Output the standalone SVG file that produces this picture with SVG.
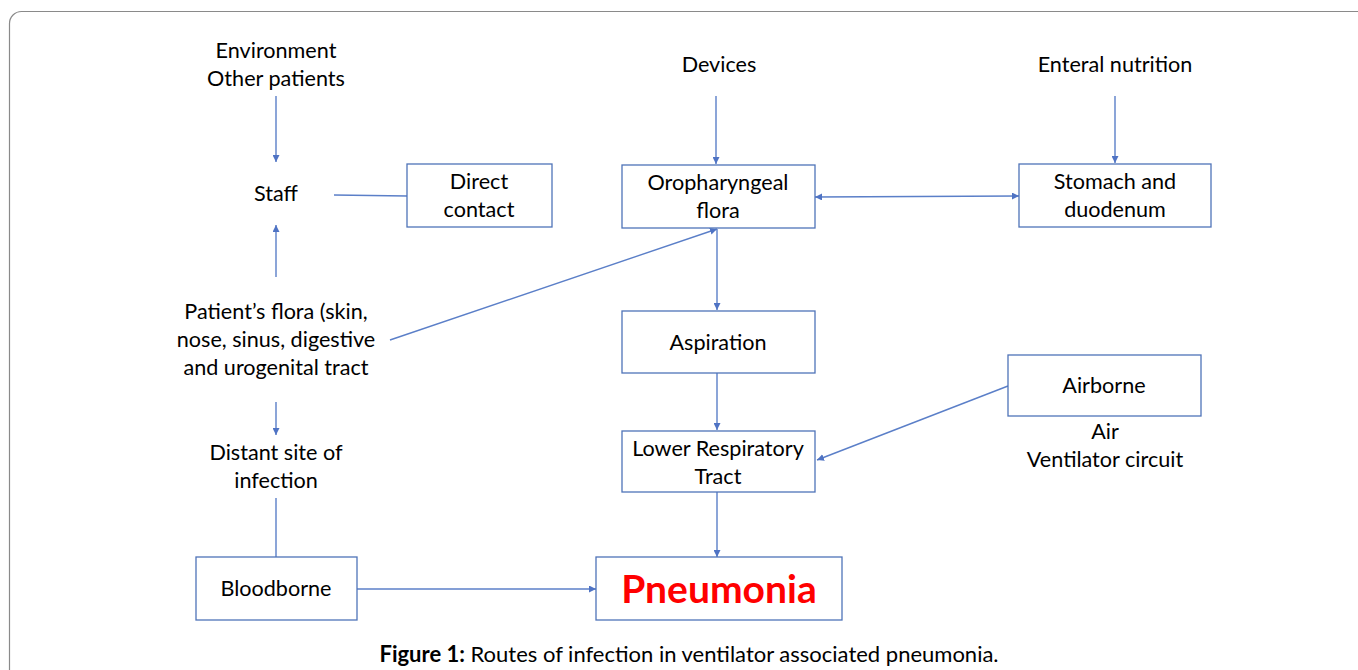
<svg xmlns="http://www.w3.org/2000/svg" width="1358" height="670" viewBox="0 0 1358 670">
<style>
.t{font-family:Lato,"Open Sans","Liberation Sans",sans-serif;font-size:21.6px;fill:#000;text-anchor:middle}
.b{fill:#fff;stroke:#4f73b8;stroke-width:1.3}
.c{stroke:#5b7fc8;stroke-width:1.4;fill:none}
.a{marker-end:url(#ah)}
</style>
<defs>
<marker id="ah" viewBox="0 0 10 10" refX="10" refY="5" markerWidth="7" markerHeight="7" markerUnits="userSpaceOnUse" orient="auto-start-reverse"><path d="M0,0L10,5L0,10z" fill="#4f73c4"/></marker>
</defs>
<rect width="1358" height="670" fill="#fff"/>
<rect x="9.5" y="11.5" width="1420" height="720" rx="12" fill="none" stroke="#8a8a8a" stroke-width="1.2"/>
<g id="connectors">
<line class="c a" x1="276" y1="96" x2="276" y2="162"/>
<line class="c" x1="334" y1="195" x2="407" y2="196"/>
<line class="c a" x1="276" y1="277" x2="276" y2="225"/>
<line class="c a" x1="390" y1="340" x2="717" y2="229"/>
<line class="c a" x1="276" y1="402" x2="276" y2="435"/>
<line class="c" x1="276" y1="498" x2="276" y2="557"/>
<line class="c a" x1="357" y1="589" x2="596" y2="589"/>
<line class="c a" x1="716" y1="96" x2="716" y2="164"/>
<line class="c a" x1="1115" y1="96" x2="1115" y2="163"/>
<line class="c a" x1="815" y1="197" x2="1019" y2="196" style="marker-start:url(#ah)"/>
<line class="c a" x1="717" y1="229" x2="717" y2="310"/>
<line class="c a" x1="717" y1="373" x2="717" y2="430"/>
<line class="c a" x1="717" y1="492" x2="717" y2="557"/>
<line class="c a" x1="1008" y1="386" x2="817" y2="460"/>
</g>
<g id="env"><text class="t" x="276" y="58">Environment</text><text class="t" x="276" y="86">Other patients</text></g>
<g id="staff"><text class="t" x="276" y="201">Staff</text></g>
<g id="direct"><rect class="b" x="407" y="164" width="145" height="63"/><text class="t" x="479" y="189">Direct</text><text class="t" x="479" y="217">contact</text></g>
<g id="patient"><text class="t" x="276" y="319">Patient’s flora (skin,</text><text class="t" x="276" y="347">nose, sinus, digestive</text><text class="t" x="276" y="375">and urogenital tract</text></g>
<g id="distant"><text class="t" x="276" y="460">Distant site of</text><text class="t" x="276" y="488">infection</text></g>
<g id="bloodborne"><rect class="b" x="196" y="557" width="161" height="63"/><text class="t" x="276" y="596">Bloodborne</text></g>
<g id="pneumonia"><rect class="b" x="596" y="557" width="246" height="63"/><text class="t" x="719" y="603" style="font-size:39px;font-weight:bold;fill:#f00">Pneumonia</text></g>
<g id="devices"><text class="t" x="719" y="72">Devices</text></g>
<g id="oro"><rect class="b" x="622" y="165" width="193" height="63"/><text class="t" x="718" y="190">Oropharyngeal</text><text class="t" x="718" y="218">flora</text></g>
<g id="enteral"><text class="t" x="1115" y="72">Enteral nutrition</text></g>
<g id="stomach"><rect class="b" x="1019" y="164" width="192" height="63"/><text class="t" x="1115" y="189">Stomach and</text><text class="t" x="1115" y="217">duodenum</text></g>
<g id="aspiration"><rect class="b" x="622" y="311" width="193" height="62"/><text class="t" x="718" y="350">Aspiration</text></g>
<g id="lrt"><rect class="b" x="622" y="431" width="193" height="61"/><text class="t" x="718" y="456">Lower Respiratory</text><text class="t" x="718" y="484">Tract</text></g>
<g id="airborne"><rect class="b" x="1008" y="355" width="193" height="61"/><text class="t" x="1104" y="393">Airborne</text><text class="t" x="1105" y="439">Air</text><text class="t" x="1105" y="467">Ventilator circuit</text></g>
<g id="caption"><text class="t" x="689" y="662" style="font-size:22px"><tspan font-weight="bold">Figure 1:</tspan> Routes of infection in ventilator associated pneumonia.</text></g>
</svg>
